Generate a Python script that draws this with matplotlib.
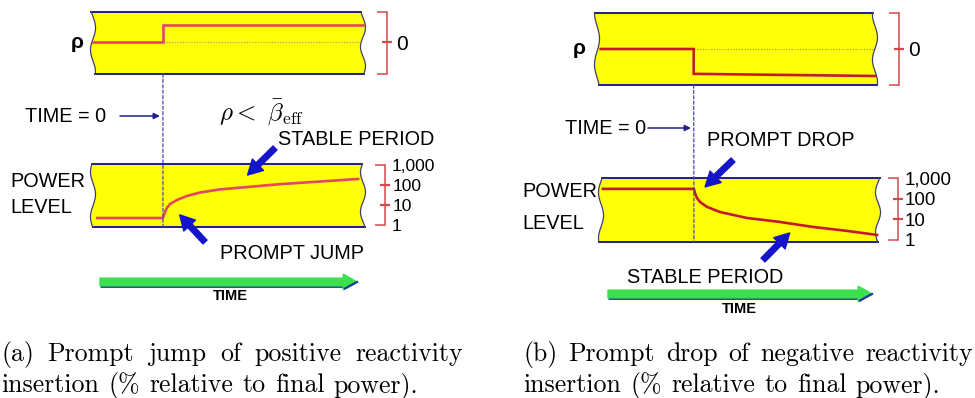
import numpy as np
import matplotlib
matplotlib.use('Agg')
import matplotlib.pyplot as plt
from matplotlib.patches import Polygon, ConnectionPatch
from matplotlib.ticker import FixedLocator, FixedFormatter

plt.rcParams['font.family'] = ['Liberation Sans', 'DejaVu Sans']
plt.rcParams['mathtext.fontset'] = 'cm'

# ---------------- data ----------------
# (a) positive reactivity step -> prompt jump
rho_time_a = [-1.0, 0.0, 0.0, 2.86]
rho_a = [0.0, 0.0, 0.55, 0.55]
pow_time_a = [-0.94, 0.0, 0.029, 0.057, 0.10, 0.20, 0.343, 0.529, 0.814,
              1.2, 1.67, 2.14, 2.79]
pow_a = [2.24, 2.24, 4.47, 7.1, 11.2, 17.8, 28.2, 42.0, 60, 79, 110, 141, 200]

# (b) negative reactivity step -> prompt drop
rho_time_b = [-1.0, 0.0, 0.0, 1.95]
rho_b = [0.0, 0.0, -0.69, -0.75]
pow_time_b = [-0.98, 0.0, 0.01, 0.032, 0.065, 0.14, 0.28, 0.57, 0.92, 1.28,
              1.65, 1.97]
pow_b = [309, 309, 195, 112, 71, 41, 23, 11.8, 7.6, 4.3, 2.75, 1.75]

power_end_ticks = [1, 1000]
power_end_labels = ['1', '1,000']
power_mid_ticks = [10, 100]
power_mid_labels = ['10', '100']
rho_mid_ticks = [0.0]
rho_mid_labels = ['0']

caption_a = ["(a) Prompt jump of positive reactivity",
             "insertion (% relative to final power)."]
caption_b = ["(b) Prompt drop of negative reactivity",
             "insertion (% relative to final power)."]

# ---------------- figure ----------------
W, H = 975, 398
fig = plt.figure(figsize=(W / 100, H / 100), dpi=100)

ov = fig.add_axes([0, 0, 1, 1])
ov.set_xlim(0, W)
ov.set_ylim(H, 0)
ov.axis('off')

YELLOW = '#ffff08'
NAVY = '#1e1e88'
BRACKET = '#d24a4a'
ARROW_BLUE = '#1414c8'


def box_axes(px):
    x0, y0, x1, y1 = px
    return fig.add_axes([x0 / W, 1 - y1 / H, (x1 - x0) / W, (y1 - y0) / H])


def draw_box(ax, phase):
    bb_w = ax.get_position().width * W
    amp = 2.5 / bb_w
    s = np.linspace(0, 1, 60)
    right = 1 + amp * np.sin(2 * np.pi * 1.6 * s + phase)
    left = 0 + amp * np.sin(2 * np.pi * 1.4 * s + phase + 1.0)
    verts = ([(left[0], 0)] + [(right[0], 0)] +
             list(zip(right, s)) + [(left[-1], 1)] + list(zip(left[::-1], s[::-1])))
    poly = Polygon(verts, closed=True, transform=ax.transAxes, facecolor=YELLOW,
                   edgecolor='none', clip_on=False, zorder=0)
    ax.add_patch(poly)
    ax.plot([left[-1], right[-1]], [1, 1], transform=ax.transAxes, color=NAVY,
            lw=1.4, clip_on=False, zorder=1)
    ax.plot([left[0], right[0]], [0, 0], transform=ax.transAxes, color=NAVY,
            lw=1.4, clip_on=False, zorder=1)
    ax.plot(right, s, transform=ax.transAxes, color='#404070', lw=0.9,
            clip_on=False, zorder=1)
    ax.plot(left, s, transform=ax.transAxes, color='#404070', lw=0.9,
            clip_on=False, zorder=1)
    ax.patch.set_visible(False)
    ax.set_xticks([])
    for k in ['top', 'bottom', 'left']:
        ax.spines[k].set_visible(False)


def bracket(ax, offset_pt, end_ticks, end_labels, mid_ticks, mid_labels,
            bounds, lsize, mid_pad=1.5):
    sp = ax.spines['right']
    sp.set_position(('outward', offset_pt))
    sp.set_color(BRACKET)
    sp.set_linewidth(1.1)
    sp.set_bounds(*bounds)
    ax.yaxis.set_ticks_position('right')
    ax.yaxis.set_major_locator(FixedLocator(end_ticks))
    ax.yaxis.set_major_formatter(FixedFormatter(end_labels))
    ax.yaxis.set_minor_locator(FixedLocator(mid_ticks))
    ax.yaxis.set_minor_formatter(FixedFormatter(mid_labels))
    ax.tick_params(axis='y', which='major', direction='in', length=7, width=1.1,
                   color=BRACKET, labelsize=lsize, pad=4.5, labelcolor='black')
    ax.tick_params(axis='y', which='minor', direction='inout', length=7, width=1.6,
                   color=BRACKET, labelsize=lsize, pad=mid_pad, labelcolor='black')


def make_panel(rho_px, pow_px, rho_t, rho_v, p_t, p_v, rho_ylim, pow_ylim,
               xlim_r, xlim_p, line_color, off_r, off_p, lsize, phase):
    ar = box_axes(rho_px)
    ap = box_axes(pow_px)
    for a, ph in ((ar, phase), (ap, phase + 2.0)):
        draw_box(a, ph)
    ar.set_xlim(*xlim_r)
    ar.set_ylim(*rho_ylim)
    ap.set_xlim(*xlim_p)
    ap.set_yscale('log')
    ap.set_ylim(*pow_ylim)
    # reference zero line after t=0
    ar.plot([0, xlim_r[1]], [0, 0], color='#9a9a70', lw=0.8, ls=(0, (1, 1.5)),
            zorder=2)
    ar.plot(rho_t, rho_v, color=line_color, lw=1.9, zorder=3, clip_on=False,
            solid_joinstyle='miter')
    ap.plot(p_t, p_v, color=line_color, lw=1.9, zorder=3, clip_on=False,
            solid_joinstyle='round')
    bracket(ar, off_r, list(rho_ylim), ['', ''], rho_mid_ticks, rho_mid_labels,
            rho_ylim, 15, mid_pad=3.5)
    bracket(ap, off_p, power_end_ticks, power_end_labels, power_mid_ticks,
            power_mid_labels, (1, 1000), lsize)
    con = ConnectionPatch(xyA=(0, rho_ylim[0]), coordsA=ar.transData,
                          xyB=(0, pow_ylim[0]), coordsB=ap.transData,
                          color='#4848b0', lw=0.9, ls=(0, (2.5, 1.8)), zorder=2)
    fig.add_artist(con)
    return ar, ap


ar_a, ap_a = make_panel((93, 12, 363, 74), (93, 164, 363, 227),
                        rho_time_a, rho_a, pow_time_a, pow_a,
                        (-1.03, 0.97), (10 ** -0.1, 10 ** 3.05),
                        (-1.0, 2.86), (-1.0, 2.86), '#e24660', 17, 16, 12.5, 0.3)
ar_b, ap_b = make_panel((597, 13, 875, 85), (601, 178, 878, 242),
                        rho_time_b, rho_b, pow_time_b, pow_b,
                        (-1.0, 1.0), (10 ** -0.1, 10 ** 3.02),
                        (-1.04, 1.95), (-1.0, 1.98), '#c41a30', 17, 14.5, 13.5, 1.2)

# ---------------- labels ----------------
TS = 14.3
ov.text(77, 43, 'ρ', fontsize=15, fontweight='bold', ha='center', va='center')
ov.text(579, 48, 'ρ', fontsize=15, fontweight='bold', ha='center', va='center')

ov.text(25, 122, 'TIME = 0', fontsize=TS, va='baseline')
ov.text(565, 134, 'TIME = 0', fontsize=TS, va='baseline')
ov.annotate('', xy=(160, 116), xytext=(120, 116),
            arrowprops=dict(arrowstyle='-|>', color='#22228a', lw=1.1,
                            mutation_scale=9, shrinkA=0, shrinkB=0))
ov.annotate('', xy=(691, 128), xytext=(648, 128),
            arrowprops=dict(arrowstyle='-|>', color='#22228a', lw=1.1,
                            mutation_scale=9, shrinkA=0, shrinkB=0))

ov.text(262, 112, r'$\rho<\ \bar{\beta}_{\mathrm{eff}}$', fontsize=18,
        ha='center', va='center')

ov.text(278, 145, 'STABLE PERIOD', fontsize=TS, va='baseline')
ov.text(627, 283, 'STABLE PERIOD', fontsize=TS, va='baseline')
ov.text(220, 259, 'PROMPT JUMP', fontsize=TS, va='baseline')
ov.text(707, 146, 'PROMPT DROP', fontsize=TS, va='baseline')

ov.text(10, 187, 'POWER', fontsize=TS, va='baseline')
ov.text(10, 213, 'LEVEL', fontsize=TS, va='baseline')
ov.text(522, 197, 'POWER', fontsize=TS, va='baseline')
ov.text(522, 229, 'LEVEL', fontsize=TS, va='baseline')

ov.text(230, 300, 'TIME', fontsize=10.5, fontweight='bold', ha='center', va='baseline')
ov.text(739, 313, 'TIME', fontsize=10.5, fontweight='bold', ha='center', va='baseline')

# blue pointer arrows (tips anchored on the power axes data)
ARW = dict(arrowstyle='simple,head_length=1.05,head_width=1.15,tail_width=0.4',
           color=ARROW_BLUE, mutation_scale=10, shrinkA=0, shrinkB=0)
ap_a.annotate('', xy=(1.21, 316), xycoords='data', xytext=(275, 148),
              textcoords=ov.transData, arrowprops=ARW, annotation_clip=False)
ap_a.annotate('', xy=(0.24, 3.2), xycoords='data', xytext=(205, 242),
              textcoords=ov.transData, arrowprops=ARW, annotation_clip=False)
ap_b.annotate('', xy=(0.12, 386), xycoords='data', xytext=(733, 160),
              textcoords=ov.transData, arrowprops=ARW, annotation_clip=False)
ap_b.annotate('', xy=(1.03, 2.2), xycoords='data', xytext=(763, 260),
              textcoords=ov.transData, arrowprops=ARW, annotation_clip=False)


# green time arrows
def time_arrow(x0, x1, y):
    ov.plot([x0, x1 - 10], [y + 3.5, y + 3.5], color='#1a3a9a', lw=2.0,
            solid_capstyle='butt', zorder=3)
    ov.annotate('', xy=(x1, y), xytext=(x0, y),
                arrowprops=dict(arrowstyle='simple,head_length=1.1,head_width=1.25,tail_width=0.62',
                                color='#3be04c', mutation_scale=9, shrinkA=0, shrinkB=0),
                zorder=4)
    ov.plot([x1 - 12, x1], [y + 6.5, y], color='#1a3a9a', lw=1.6, zorder=5)


time_arrow(100, 357, 282)
time_arrow(608, 872, 294)

# ---------------- captions (justified first line) ----------------
CAP_SIZE = 18.6
renderer = fig.canvas.get_renderer()


def caption(lines, x0, x1, baselines):
    for i, (line, yb) in enumerate(zip(lines, baselines)):
        words = line.split(' ')
        texts = [ov.text(0, yb, w, fontsize=CAP_SIZE, family='cmr10', va='baseline')
                 for w in words]
        widths = [t.get_window_extent(renderer).width for t in texts]
        if i == 0:
            gap = (x1 - x0 - sum(widths)) / (len(words) - 1)
        else:
            gap = CAP_SIZE * 100 / 72 * 0.36
        x = x0
        for t, w in zip(texts, widths):
            t.set_x(x)
            x += w + gap


caption(caption_a, 1, 463, [361, 392])
caption(caption_b, 523, 973, [361, 392])

fig.savefig('out.png', dpi=100)
